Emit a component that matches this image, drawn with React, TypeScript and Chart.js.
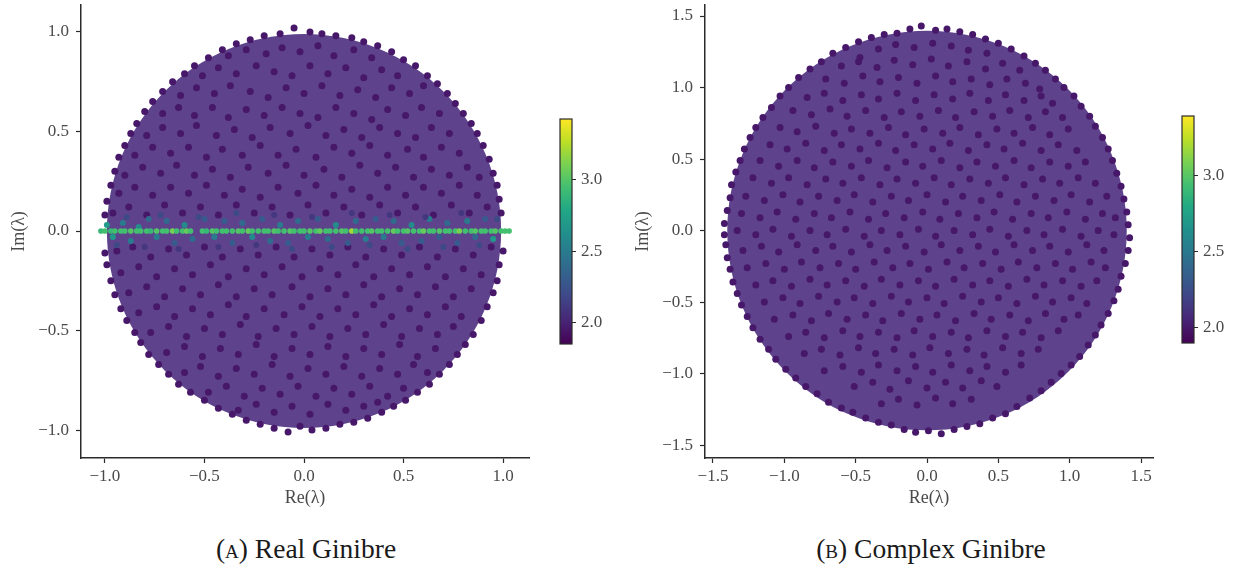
import React, { useEffect, useRef } from "react";
import { Chart, registerables } from "chart.js";

Chart.register(...registerables);

// The reference holds about 10,000 dots per panel, too many to read one by one.
// The lists below are a hand-estimated sample (hundredths, flat x,y pairs); the
// cloudRadius disc stands in for the remaining dense cloud.
const realCloud = [
-12,99,-5,102,3,100,9,99,16,98,24,97,-20,98,-27,96,30,95,37,93,-34,94,-41,91,44,90,50,86,-48,87,-55,83,56,83,62,78,-60,79,-66,75,67,74,72,69,-71,70,-76,65,76,64,80,59,-80,60,-84,54,84,54,87,49,-87,49,-90,43,90,43,93,36,-93,37,-95,30,95,29,97,23,-97,23,-99,15,98,16,99,9,-100,8,
-38,88,-29,91,-19,89,-11,92,-2,90,7,93,15,88,25,91,34,87,
-51,78,-43,82,-34,79,-24,83,-15,80,-6,78,3,83,12,79,21,82,30,77,39,81,47,78,
-62,68,-54,72,-45,69,-37,73,-27,70,-18,67,-9,72,0,69,9,73,18,68,27,71,36,67,44,72,53,69,60,73,
-71,59,-63,62,-55,58,-46,62,-38,57,-29,61,-20,58,-11,62,-2,59,7,57,16,62,25,59,34,56,42,61,51,58,59,62,68,59,
-79,48,-71,52,-62,49,-54,53,-44,48,-35,51,-26,47,-17,52,-7,49,2,53,11,48,20,51,29,47,38,52,47,49,56,47,64,52,73,49,
-85,38,-76,42,-67,39,-58,42,-49,37,-41,41,-31,38,-22,43,-13,38,-4,41,6,37,15,42,24,39,33,43,42,38,52,41,60,37,69,42,78,39,
-90,28,-81,32,-72,29,-64,33,-55,28,-46,31,-37,27,-28,32,-18,29,-9,33,0,28,10,31,19,27,28,33,37,29,46,32,55,27,64,31,73,28,82,32,88,27,
-93,19,-85,22,-76,18,-67,22,-58,19,-49,23,-40,18,-31,21,-22,17,-13,22,-3,19,6,23,15,18,24,21,33,17,42,22,51,18,60,22,69,19,78,23,87,18,
-96,9,-88,12,-79,8,-70,13,-61,9,-52,12,-43,8,-34,13,-25,9,-16,12,-7,8,2,13,11,9,20,12,29,8,38,13,47,9,56,12,65,8,74,13,83,9,92,12,
-94,-10,-86,-8,-77,-13,-68,-9,-59,-12,-50,-8,-41,-13,-32,-9,-23,-12,-14,-8,-5,-13,4,-9,13,-12,22,-8,31,-13,40,-9,49,-12,58,-8,67,-13,76,-9,85,-12,94,-8,
-92,-21,-83,-18,-74,-23,-65,-19,-56,-22,-47,-17,-38,-23,-29,-19,-20,-22,-11,-18,-1,-23,8,-19,17,-22,26,-17,35,-23,44,-19,53,-22,62,-18,71,-23,80,-19,89,-22,
-88,-31,-79,-28,-70,-33,-61,-29,-52,-32,-43,-27,-34,-33,-25,-29,-16,-32,-6,-28,3,-33,12,-29,21,-32,30,-27,39,-33,48,-29,57,-32,66,-28,75,-33,84,-29,
-83,-41,-74,-38,-65,-43,-56,-39,-47,-42,-38,-37,-29,-43,-20,-39,-10,-42,-1,-38,8,-43,17,-39,26,-42,35,-37,44,-43,53,-39,62,-42,71,-38,79,-43,
-77,-51,-68,-48,-59,-53,-50,-49,-41,-52,-32,-47,-23,-53,-14,-49,-5,-52,4,-48,13,-53,22,-49,31,-52,40,-47,49,-53,58,-49,67,-52,75,-48,
-69,-61,-60,-58,-51,-63,-42,-59,-33,-62,-24,-57,-15,-63,-6,-59,3,-62,12,-58,21,-63,30,-59,39,-62,48,-57,57,-63,66,-59,
-60,-71,-52,-68,-43,-73,-34,-69,-25,-72,-16,-67,-7,-73,2,-69,11,-72,20,-68,29,-73,38,-69,47,-72,55,-67,62,-71,
-48,-81,-39,-78,-30,-83,-21,-79,-12,-82,-3,-78,6,-83,15,-79,24,-82,33,-78,42,-83,50,-79,
-33,-90,-24,-87,-15,-91,-6,-88,3,-92,12,-87,21,-90,30,-88,37,-86,
-8,-101,-2,-98,4,-100,11,-99,18,-97,-15,-99,-22,-97,25,-96,32,-94,-29,-95,-36,-92,39,-91,45,-88,-43,-89,-50,-85,51,-85,57,-81,-57,-81,-63,-77,63,-77,68,-72,-68,-72,-73,-67,73,-67,77,-62,-78,-62,-82,-56,81,-57,85,-52,-85,-51,-89,-45,89,-45,92,-38,-92,-39,-95,-32,95,-31,97,-25,-97,-25,-99,-17,98,-17,100,-10,-100,-11
];
const complexCloud = [
-21,138,-12,141,-4,143,6,140,14,141,23,139,32,137,-30,137,-39,135,41,134,50,131,-48,132,-57,128,59,127,68,122,-66,124,-74,118,76,117,83,112,-82,113,-90,107,90,106,96,100,-97,100,-103,94,103,94,108,87,-109,86,-115,79,114,80,118,73,-120,72,-124,65,123,65,127,57,-128,57,-131,49,130,49,133,40,-134,41,-137,32,136,31,138,22,-138,23,-140,14,140,13,141,4,-142,5,-142,-3,
-34,127,-22,130,-9,128,4,131,17,129,29,126,42,124,-47,121,
-60,115,-48,118,-35,114,-23,119,-10,116,3,120,15,115,28,118,41,113,53,117,65,112,
-71,106,-58,103,-45,108,-33,104,-20,107,-7,103,6,108,18,104,31,106,44,102,56,106,69,103,79,99,
-84,93,-72,96,-59,91,-46,95,-34,92,-21,96,-8,91,5,95,18,92,30,96,43,91,55,95,68,91,80,94,88,89,
-94,84,-81,81,-68,85,-56,80,-43,84,-30,79,-18,83,-5,80,8,84,20,79,33,83,46,80,58,84,71,79,83,83,95,79,
-103,72,-91,69,-78,73,-65,68,-53,71,-40,68,-27,72,-15,67,-2,71,11,68,23,72,36,67,49,71,61,68,74,72,86,67,99,71,
-110,60,-98,57,-85,61,-72,56,-60,60,-47,57,-34,61,-22,56,-9,60,4,57,16,61,29,56,42,60,54,57,67,61,80,56,92,60,105,56,
-117,49,-104,45,-91,49,-79,44,-66,48,-53,45,-41,49,-28,44,-15,48,-3,45,10,49,23,44,35,48,48,45,61,49,73,44,86,48,99,45,111,48,
-122,37,-109,33,-97,37,-84,32,-71,36,-59,33,-46,37,-33,32,-21,36,-8,33,5,37,17,32,30,36,43,33,55,37,68,32,81,36,93,33,106,37,118,33,
-127,24,-114,21,-101,25,-89,20,-76,24,-63,21,-51,25,-38,20,-25,24,-13,21,0,25,13,20,25,24,38,21,51,25,63,20,76,24,89,21,101,25,114,20,126,24,
-130,12,-117,9,-105,13,-92,8,-79,12,-67,9,-54,13,-41,8,-29,12,-16,9,-3,13,9,8,22,12,35,9,47,13,60,8,73,12,85,9,98,13,111,8,123,12,132,9,
-133,0,-120,-3,-108,1,-95,-4,-82,0,-70,-3,-57,1,-44,-4,-32,0,-19,-3,-6,1,6,-4,19,0,32,-3,44,1,57,-4,70,0,82,-3,95,1,108,-4,120,0,131,-3,
-129,-14,-116,-11,-104,-15,-91,-10,-78,-14,-66,-11,-53,-15,-40,-10,-28,-14,-15,-11,-2,-15,10,-10,23,-14,36,-11,48,-15,61,-10,74,-14,86,-11,99,-15,112,-10,124,-14,
-126,-26,-113,-23,-100,-27,-88,-22,-75,-26,-62,-23,-50,-27,-37,-22,-24,-26,-12,-23,1,-27,14,-22,26,-26,39,-23,52,-27,64,-22,77,-26,90,-23,102,-27,115,-22,125,-26,
-120,-38,-108,-35,-95,-39,-82,-34,-70,-38,-57,-35,-44,-39,-32,-34,-19,-38,-6,-35,6,-39,19,-34,32,-38,44,-35,57,-39,70,-34,82,-38,95,-35,108,-39,119,-35,
-114,-50,-101,-47,-89,-51,-76,-46,-63,-50,-51,-47,-38,-51,-25,-46,-13,-50,0,-47,12,-51,25,-46,38,-50,50,-47,63,-51,76,-46,88,-50,101,-47,112,-51,
-107,-62,-94,-59,-81,-63,-69,-58,-56,-62,-43,-59,-31,-63,-18,-58,-5,-62,7,-59,20,-63,33,-58,45,-62,58,-59,71,-63,83,-58,96,-62,106,-59,
-97,-74,-85,-71,-72,-75,-59,-70,-47,-74,-34,-71,-21,-75,-9,-70,4,-74,17,-71,29,-75,42,-70,55,-74,67,-71,80,-75,92,-70,
-86,-86,-74,-83,-61,-87,-48,-82,-36,-86,-23,-83,-10,-87,2,-82,15,-86,28,-83,40,-87,53,-82,66,-86,78,-83,
-72,-98,-59,-95,-46,-99,-34,-94,-21,-98,-8,-95,4,-99,17,-94,30,-98,42,-95,55,-99,66,-94,
-51,-109,-38,-106,-26,-111,-13,-105,0,-110,13,-106,25,-110,38,-105,49,-109,
-32,-121,-20,-118,-7,-122,6,-117,18,-121,31,-118,
-25,-136,-16,-139,-8,-141,1,-140,10,-142,19,-139,28,-137,-34,-134,-43,-131,37,-135,46,-131,-52,-127,-60,-124,55,-128,63,-123,-69,-120,-77,-114,72,-117,80,-112,-85,-109,-92,-103,87,-106,94,-100,-99,-97,-106,-90,101,-94,107,-88,-111,-83,-117,-76,113,-80,118,-73,-122,-68,-126,-60,122,-66,127,-58,-130,-52,-133,-44,131,-49,134,-41,-136,-36,-138,-27,136,-32,139,-23,-140,-19,-141,-10,141,-14,142,-5
];
const axisRe = [-102,-100,-97,-95,-92,-90,-87,-84,-82,-79,-77,-74,-71,-69,-66,-64,-61,-59,-57,-51,-49,-46,-44,-41,-39,-36,-33,-31,-28,-26,-23,-20,-18,-15,-13,-10,-7,-5,-2,0,3,6,8,11,13,16,19,21,24,26,29,32,34,37,39,42,45,47,50,52,55,58,60,63,65,68,71,73,76,78,81,84,86,89,91,94,96,99,101,103];
const axisValues = [2.9,2.95,2.9,2.95,2.95,2.95,3,2.95,2.95,2.95,2.9,3,2.95,2.95,3.1,2.95,2.95,3.05,2.95,2.95,2.9,3,2.95,2.95,2.95,2.95,3,2.95,3.05,2.95,2.95,2.95,2.95,3,2.95,2.95,3,2.95,2.95,2.95,3,2.95,3.05,2.95,2.95,2.95,3,2.95,3.2,2.95,2.95,2.95,3,2.95,2.95,2.95,3.05,2.95,2.95,3,2.95,2.95,3.05,2.95,2.95,3,2.95,2.95,2.95,3.1,2.95,2.95,3,2.95,2.95,2.95,3,2.95,2.95,2.95];
const nearRe = [-99,-96,-91,-87,-83,-78,-74,-69,-65,-60,-56,-50,-45,-40,-36,-31,-26,-21,-17,-12,-8,-3,2,7,12,16,22,26,31,36,40,45,49,54,59,63,68,72,77,82,86,91,95,-94,-89,-80,-72,-63,-53,-43,-34,-24,-15,-6,4,14,24,33,43,52,61,70,79,88,97];
const nearIm = [3,-3,4,-5,2,6,-3,5,-6,3,-4,6,-3,5,-6,4,-3,6,-5,3,-6,5,-3,6,-4,3,-6,5,-4,6,-3,5,-6,3,-5,6,-3,4,-6,5,-3,6,-4,-7,7,-8,8,-9,7,-8,9,-7,8,-9,7,-8,9,-7,8,-9,7,-8,9,-7,6];
const nearValues = [2.7,2.7,2.5,2.5,2.6,2.4,2.5,2.4,2.3,2.6,2.4,2.3,2.5,2.3,2.3,2.4,2.6,2.3,2.4,2.5,2.3,2.4,2.5,2.3,2.4,2.6,2.3,2.4,2.5,2.3,2.5,2.4,2.3,2.6,2.3,2.5,2.3,2.4,2.3,2.5,2.4,2.3,2.7,2.2,2.2,2.1,2.2,2.1,2.2,2.1,2.2,2.1,2.1,2.2,2.1,2.2,2.1,2.2,2.1,2.2,2.1,2.2,2.1,2.2,2.2];
const bulkValue = 1.95;
const realCloudRadius = [0.99];
const complexCloudRadius = [1.4];
const realTicks = [-1, -0.5, 0, 0.5, 1];
const complexTicks = [-1.5, -1, -0.5, 0, 0.5, 1, 1.5];
const barTicks = [2, 2.5, 3];
const realBarRange = [1.85, 3.425];
const complexBarRange = [1.9, 3.395];

const INK = "#2b2b2b";
const TEXT = "#4a4a4a";
const SERIF = "'Liberation Serif', serif";
const stops = ["#440154","#482475","#414487","#355f8d","#2a788e","#21918c","#22a884","#44bf70","#7ad151","#bddf26","#fde725"];

function hex(c: string) { return [1, 3, 5].map((i) => parseInt(c.slice(i, i + 2), 16)); }
function viridis(t: number) {
  const p = Math.max(0, Math.min(1, t)) * (stops.length - 1);
  const i = Math.min(stops.length - 2, Math.floor(p));
  const a = hex(stops[i]), b = hex(stops[i + 1]), f = p - i;
  return `rgb(${a.map((v, k) => Math.round(v + (b[k] - v) * f)).join(",")})`;
}
function fmt(v: number) { return v.toFixed(1).replace("-", "\u2212"); }
function pairs(flat: number[]) {
  const out: { x: number; y: number }[] = [];
  for (let i = 0; i + 1 < flat.length; i += 2) out.push({ x: flat[i] / 100, y: flat[i + 1] / 100 });
  return out;
}

function axis(title: string, ticks: number[], min: number, max: number, pad: number, fixed: (s: any) => void) {
  return {
    type: "linear", min, max,
    title: { display: true, text: title, color: TEXT, font: { family: SERIF, size: 18 }, padding: 0 },
    grid: { drawOnChartArea: false, drawTicks: true, tickLength: 5, tickColor: INK, tickWidth: 1.2 },
    border: { display: true, color: INK, width: 1.5 },
    ticks: { color: TEXT, font: { family: SERIF, size: 17 }, padding: pad, maxRotation: 0, autoSkip: false, callback: (v: number) => fmt(v) },
    afterBuildTicks: (s: any) => { s.ticks = ticks.map((value) => ({ value })); },
    afterFit: (s: any) => {
      s.paddingTop = 0; s.paddingBottom = 0; s.paddingLeft = 0; s.paddingRight = 0;
      fixed(s);
    },
  };
}

function Panel(props: { left: number; width: number; right: number; cloud: number[]; radius: number[]; ticks: number[]; xr: number[]; yr: number[]; withAxis: boolean; dot: number }) {
  const ref = useRef<HTMLCanvasElement>(null);
  useEffect(() => {
    const { cloud, radius, withAxis } = props;
    const datasets: any[] = [
      {
        data: [{ x: 0, y: 0 }], order: 5,
        pointBackgroundColor: "rgb(94,67,140)", pointBorderWidth: 0,
        pointRadius: (c: any) => c.chart.scales.x.getPixelForValue(radius[0]) - c.chart.scales.x.getPixelForValue(0),
      },
      { data: pairs(cloud), order: 4, pointBackgroundColor: viridis((bulkValue - 1.85) / 1.575), pointBorderWidth: 0, pointRadius: props.dot },
    ];
    if (withAxis) {
      datasets.push({
        data: nearRe.map((r, i) => ({ x: r / 100, y: nearIm[i] / 100 })), order: 2,
        pointBackgroundColor: nearValues.map((v) => viridis((v - 1.85) / 1.575)), pointBorderWidth: 0, pointRadius: 3,
      });
      datasets.push({
        data: axisRe.map((r) => ({ x: r / 100, y: 0 })), order: 1,
        pointBackgroundColor: axisValues.map((v) => viridis((v - 1.85) / 1.575)), pointBorderWidth: 0, pointRadius: 2.8,
      });
    }
    const H = 509;
    const chart = new Chart(ref.current!, {
      type: "scatter",
      data: { datasets },
      options: {
        animation: false, responsive: false, events: [],
        layout: { padding: { top: 5, right: props.width - props.right, left: 8, bottom: 0 } },
        plugins: { legend: { display: false }, tooltip: { enabled: false } },
        scales: {
          x: axis("Re(\u03bb)", props.ticks, props.xr[0], props.xr[1], 3, (s: any) => { s.height = H - 458; }),
          y: axis("Im(\u03bb)", props.ticks, props.yr[0], props.yr[1], 7, (s: any) => { s.width = 73; }),
        },
      } as any,
    });
    return () => chart.destroy();
  }, []);
  return <canvas ref={ref} width={props.width} height={509} style={{ position: "absolute", left: props.left, top: 0 }} />;
}

function ColorBar(props: { left: number; top: number; height: number; range: number[] }) {
  const ref = useRef<HTMLCanvasElement>(null);
  useEffect(() => {
    const gradient = {
      id: "gradient",
      beforeDatasetsDraw(c: any) {
        const { left, right, top, bottom } = c.chartArea;
        const g = c.ctx.createLinearGradient(0, bottom, 0, top);
        stops.forEach((s, i) => g.addColorStop(i / (stops.length - 1), s));
        c.ctx.fillStyle = g;
        c.ctx.fillRect(left, top, right - left, bottom - top);
        c.ctx.strokeStyle = INK;
        c.ctx.lineWidth = 1.2;
        c.ctx.strokeRect(left, top, right - left, bottom - top);
      },
    };
    const chart = new Chart(ref.current!, {
      type: "scatter",
      data: { datasets: [{ data: [] }] },
      plugins: [gradient],
      options: {
        animation: false, responsive: false, events: [],
        layout: { padding: { top: 1, bottom: 1, left: 1, right: 0 } },
        plugins: { legend: { display: false }, tooltip: { enabled: false } },
        scales: {
          x: { display: false, min: 0, max: 1 },
          y: {
            position: "right", type: "linear", min: props.range[0], max: props.range[1],
            grid: { drawOnChartArea: false, drawTicks: true, tickLength: 4, tickColor: INK },
            border: { display: false },
            ticks: { color: TEXT, font: { family: SERIF, size: 17 }, padding: 5, callback: (v: number) => fmt(v) },
            afterBuildTicks: (s: any) => { s.ticks = barTicks.map((value) => ({ value })); },
            afterFit: (s: any) => { s.width = 38; s.paddingTop = 0; s.paddingBottom = 0; },
          },
        },
      } as any,
    });
    return () => chart.destroy();
  }, []);
  return <canvas ref={ref} width={51} height={props.height + 2} style={{ position: "absolute", left: props.left - 1, top: props.top - 1 }} />;
}

function Caption(props: { center: number; tag: string; text: string }) {
  return (
    <div style={{ position: "absolute", left: props.center - 200, width: 400, top: 533, textAlign: "center", font: `27.5px ${SERIF}`, color: "#1a1a1a", whiteSpace: "nowrap" }}>
      (<span style={{ fontVariant: "small-caps" }}>{props.tag}</span>) {props.text}
    </div>
  );
}

export default function App() {
  return (
    <div style={{ position: "fixed", left: 0, top: 0, width: 1241, height: 568, background: "#fff", overflow: "hidden" }}>
      <Panel left={0} width={545} right={529} cloud={realCloud} radius={realCloudRadius} ticks={realTicks} xr={[-1.12, 1.13]} yr={[-1.14, 1.135]} withAxis={true} dot={3.5} />
      <ColorBar left={559.5} top={118.5} height={225.5} range={realBarRange} />
      <Panel left={624} width={545} right={529} cloud={complexCloud} radius={complexCloudRadius} ticks={complexTicks} xr={[-1.556, 1.584]} yr={[-1.59, 1.577]} withAxis={false} dot={3.5} />
      <ColorBar left={1182} top={116} height={227} range={complexBarRange} />
      <Caption center={306} tag="a" text="Real Ginibre" />
      <Caption center={931} tag="b" text="Complex Ginibre" />
    </div>
  );
}
